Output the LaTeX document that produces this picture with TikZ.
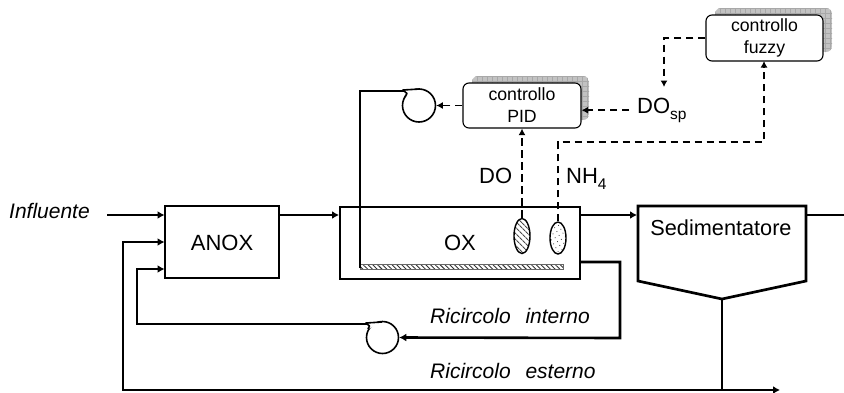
\documentclass[tikz,border=0pt]{standalone}
\usepackage{fontspec}
\setmainfont{Liberation Sans}
\usetikzlibrary{arrows.meta,patterns.meta,shapes.geometric}
\newcommand{\lowsub}[1]{\raisebox{-6.5pt}{\fontsize{15.5}{16}\selectfont #1}}
\tikzset{
  x=1pt,y=-1pt,
  flow/.style={line width=2.6pt,-{Latex[length=7pt,width=8pt]}},
  pipe/.style={line width=2.6pt},
  tank/.style={draw,line width=2.7pt,inner sep=0pt},
  signal/.style={line width=1.5pt,dash pattern=on 7.5pt off 4.5pt,-{Latex[length=6.5pt,width=7pt]}},
  ctrl/.style={draw,line width=1.1pt,rounded corners=6pt,fill=white,align=center,inner sep=0pt,font=\fontsize{17.7}{22}\selectfont},
  txt/.style={inner sep=0pt,font=\fontsize{22}{25}\selectfont},
  itxt/.style={inner sep=0pt,font=\fontsize{21}{25}\selectfont\itshape},
  pumpshape/.style={circle,draw,line width=1.6pt,fill=white,inner sep=0pt},
  probe/.style={ellipse,draw,line width=1.4pt,inner sep=0pt,minimum width=16pt},
  pumptab/.style={line width=1.6pt,fill=white,line join=round},
}
\begin{document}
\begin{tikzpicture}
\useasboundingbox[fill=white] (0,0) rectangle (844,392);
% tanks
\node[tank,minimum width=114pt,minimum height=72pt] (anox) at (222,242) {};
\node[txt] (anoxl) at (222,243) {ANOX};
\node[tank,minimum width=240pt,minimum height=72pt] (ox) at (460,243) {};
\node[txt] (oxl) at (460,243) {OX};
\draw[line width=2.7pt,line join=miter] (638,206) -- (806,206) -- (806,281) -- (722,299) -- (638,281) -- cycle;
\coordinate (sedtip) at (722,299);
\node[txt,font=\fontsize{21.7}{25}\selectfont] (sedl) at (721,228) {Sedimentatore};
% inlet/outlet
\coordinate (inflow) at (107,215);
\coordinate (outflow) at (844,215);
\node[itxt,anchor=base west] (infl) at (9,218) {Influente};
\draw[flow] (inflow) -- (164.5,215);
\draw[flow] (280,215) -- (339,215);
\draw[flow] (581,215) -- (637,215);
\draw[pipe] (806,215) -- (outflow);
% external recirculation
\coordinate (extend) at (780,390);
\coordinate (extjoin) at (722,390);
\draw[pipe] (sedtip) -- (extjoin);
\draw[flow,line join=miter] (extjoin) -- (123,390) -- (123,242) -- (164.5,242);
\draw[line width=1.8pt,-{Latex[length=7pt,width=8pt]}] (extjoin) -- (extend);
% internal recirculation and pump
\node[pumpshape,minimum size=32pt] (pump2) at (382.5,337.5) {};
\draw[pumptab] (382,322) -- (366,323) -- (369.5,326) -- (368,329);
\coordinate (pump2out) at (367,324);
\draw[flow,line join=miter] (581,262) -- (620,262) -- (620,338) -- (pump2.east);
\draw[flow,line join=miter] (pump2out) -- (137,324) -- (137,269) -- (164.5,269);
% diffuser and air
\node[draw=black!60,line width=0.4pt,pattern={Lines[angle=-45,distance=3.4pt,line width=0.9pt]},pattern color=black!80,minimum width=203pt,minimum height=4.5pt,inner sep=0pt] (diff) at (461.5,266.5) {};
\node[pumpshape,minimum size=33pt] (pump1) at (419,105.5) {};
\draw[pumptab] (420,89) -- (403,90) -- (407,93.5) -- (405,97);
\coordinate (pump1out) at (404,91);
\draw[pipe,line join=miter] (360,268) -- (360,91) -- (pump1out);
% controllers
\begin{scope}
\clip[rounded corners=6pt] (472,76) rectangle (589,120);
\fill[black!24] (472,76) rectangle (589,120);
\draw[black!34,line width=0.3pt,shift={(472,76)},step=5pt] (0,0) grid (120,45);
\end{scope}
\node[ctrl,minimum width=118pt,minimum height=45pt] (pid) at (522,105.5) {controllo\\PID};
\begin{scope}
\clip[rounded corners=6pt] (715,8) rectangle (832,52);
\fill[black!24] (715,8) rectangle (832,52);
\draw[black!34,line width=0.3pt,shift={(715,8)},step=5pt] (0,0) grid (120,45);
\end{scope}
\node[ctrl,minimum width=117pt,minimum height=46pt] (fuzzy) at (764.5,38) {controllo\\fuzzy};
\node[txt,anchor=base west] (dosp) at (637,113) {DO\lowsub{sp}};
\node[probe,minimum height=35pt,pattern={Lines[angle=-45,distance=4pt,line width=1.1pt]},pattern color=black!70] (p1) at (522,236) {};
\node[probe,minimum height=32pt,pattern={Dots[distance=4.5pt,radius=0.6pt,angle=30]},pattern color=black!70] (p2) at (558,238) {};
\node[txt,anchor=base west] (dol) at (479,183) {DO};
\node[txt,anchor=base west] (nhl) at (566,183) {NH\lowsub{4}};
\draw[signal] (pid.west) -- (pump1.east);
\draw[signal,shorten <=8pt] (dosp.west) -- (dosp.west -| pid.east);
\draw[signal] (fuzzy.west) -- (664,38) -- (664,87);
\draw[signal] (p1.north) -- (p1.north |- pid.south);
\draw[signal] (p2.north) -- (558,142) -- (764,142) -- (764,61);
\node[itxt,anchor=base west] (ri) at (430,323) {Ricircolo\hspace{9pt} interno};
\node[itxt,anchor=base west] (re) at (430,378) {Ricircolo\hspace{9pt} esterno};
\end{tikzpicture}
\end{document}
